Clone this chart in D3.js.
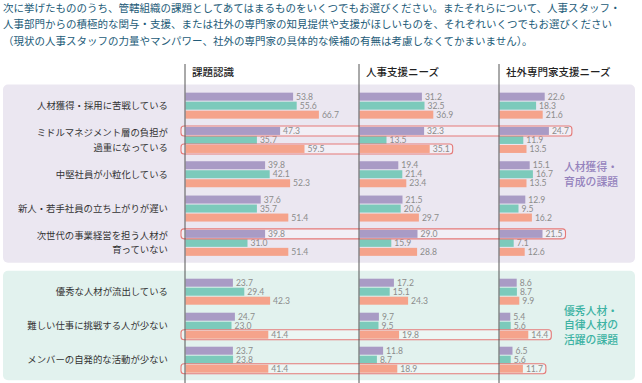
<!DOCTYPE html>
<html><head><meta charset="utf-8">
<script src="https://cdn.jsdelivr.net/npm/d3@7"></script>
<style>
html,body{margin:0;padding:0;background:#fff;}
svg{display:block;}
</style></head>
<body>
<svg id="chart" width="642" height="383"></svg>
<script>
// ---- data ----
const headerLines = [
  "次に挙げたもののうち、管轄組織の課題としてあてはまるものをいくつでもお選びください。またそれらについて、人事スタッフ・",
  "人事部門からの積極的な関与・支援、または社外の専門家の知見提供や支援がほしいものを、それぞれいくつでもお選びください",
  "（現状の人事スタッフの力量やマンパワー、社外の専門家の具体的な候補の有無は考慮しなくてかまいません）。"
];
const panels = ["課題認識", "人事支援ニーズ", "社外専門家支援ニーズ"];
const upperCats = ["人材獲得・採用に苦戦している", "ミドルマネジメント層の負担が\n過重になっている", "中堅社員が小粒化している", "新人・若手社員の立ち上がりが遅い", "次世代の事業経営を担う人材が\n育っていない"];
const lowerCats = ["優秀な人材が流出している", "難しい仕事に挑戦する人が少ない", "メンバーの自発的な活動が少ない"];
const series = ["s1", "s2", "s3"];
// values per panel: [series][category]
const kadaiS1 = [53.8, 47.3, 39.8, 37.6, 39.8, 23.7, 24.7, 23.7];
const kadaiS2 = [55.6, 35.7, 42.1, 35.7, 31.0, 29.4, 23.0, 23.8];
const kadaiS3 = [66.7, 59.5, 52.3, 51.4, 51.4, 42.3, 41.4, 41.4];
const jinjiS1 = [31.2, 32.3, 19.4, 21.5, 29.0, 17.2, 9.7, 11.8];
const jinjiS2 = [32.5, 13.5, 21.4, 20.6, 15.9, 15.1, 9.5, 8.7];
const jinjiS3 = [36.9, 35.1, 23.4, 29.7, 28.8, 24.3, 19.8, 18.9];
const shagaiS1 = [22.6, 24.7, 15.1, 12.9, 21.5, 8.6, 5.4, 6.5];
const shagaiS2 = [18.3, 11.9, 16.7, 9.5, 7.1, 8.7, 5.6, 5.6];
const shagaiS3 = [21.6, 13.5, 13.5, 16.2, 12.6, 9.9, 14.4, 11.7];
// highlighted rows: category index, series index, last panel covered
const highlights = [[1, 0, 2], [1, 2, 1], [4, 0, 2], [6, 2, 2], [7, 2, 2]];
const groupLabels = [["人材獲得・", "育成の課題"], ["優秀人材・", "自律人材の", "活躍の課題"]];

const panelData = [[kadaiS1, kadaiS2, kadaiS3], [jinjiS1, jinjiS2, jinjiS3], [shagaiS1, shagaiS2, shagaiS3]];
const allCats = upperCats.concat(lowerCats);

// ---- styles ----
const colors = ["#a99bc5", "#7ccabb", "#f5a38b"];
const jp = "'Noto Sans CJK JP', 'Noto Sans', sans-serif";
const numFont = "Lato, 'Noto Sans', sans-serif";

const svg = d3.select("#chart");

// header
svg.append("g").selectAll("text").data(headerLines).join("text")
  .attr("x", 3).attr("y", (d, i) => 12 + i * 16.3)
  .attr("font-family", jp).attr("font-size", 10.5).attr("fill", "#235b78")
  .text(d => d);

// backgrounds
svg.append("rect").attr("x", 3).attr("y", 84.5).attr("width", 632).attr("height", 178.2)
  .attr("rx", 5).attr("fill", "#ebe7f1");
svg.append("rect").attr("x", 3).attr("y", 270.7).attr("width", 632).attr("height", 109.5)
  .attr("rx", 5).attr("fill", "#e2f2ee");

// scales
const origins = [185, 359, 499];
const x = d3.scaleLinear().domain([0, 100]).range([0, 200]);
const yUpper = d3.scaleBand().domain(upperCats).range([88.5, 88.5 + 5 * 34.3]);
const yLower = d3.scaleBand().domain(lowerCats).range([274.7, 274.7 + 3 * 34]);
const yInner = d3.scaleBand().domain(series).range([0, 26]).paddingInner(1 / 9);
function groupTop(ci) {
  const c = allCats[ci];
  if (ci < upperCats.length) return yUpper(c) + (yUpper.step() - 26) / 2;
  return yLower(c) + (yLower.step() - 26) / 2;
}
function barTop(ci, si) { return groupTop(ci) + yInner(series[si]); }

// layers
const hlFill = svg.append("g");
const barsG = svg.append("g");
const labelsG = svg.append("g");
const hlStroke = svg.append("g");

// bars + labels
const labelEnds = {};
panels.forEach((p, pi) => {
  const ox = origins[pi] + 0.5;
  series.forEach((s, si) => {
    const vals = panelData[pi][si];
    barsG.append("g").selectAll("rect").data(vals).join("rect")
      .attr("x", ox)
      .attr("y", (d, ci) => barTop(ci, si))
      .attr("width", d => x(d))
      .attr("height", yInner.bandwidth())
      .attr("fill", colors[si]);
    labelsG.append("g").selectAll("text").data(vals).join("text")
      .attr("x", d => ox + x(d) + 3)
      .attr("y", (d, ci) => barTop(ci, si) + yInner.bandwidth() / 2)
      .attr("dy", "0.36em")
      .attr("font-family", numFont).attr("font-size", 8.6).attr("fill", "#8c8c8c")
      .text(d => d.toFixed(1))
      .each(function (d, ci) {
        labelEnds[pi + "_" + si + "_" + ci] = ox + x(d) + 3 + this.getComputedTextLength();
      });
  });
});

// highlight boxes
highlights.forEach(([ci, si, last]) => {
  const x0 = 181;
  const x1 = labelEnds[last + "_" + si + "_" + ci] + 3;
  const y0 = barTop(ci, si) - 1;
  hlFill.append("rect").attr("x", x0).attr("y", y0).attr("width", x1 - x0).attr("height", 10)
    .attr("rx", 3).attr("fill", "rgba(255,255,255,0.35)");
  hlStroke.append("rect").attr("x", x0).attr("y", y0).attr("width", x1 - x0).attr("height", 10)
    .attr("rx", 3).attr("fill", "none").attr("stroke", "#e57a78").attr("stroke-width", 1.1);
});

// vertical axis lines
svg.append("g").selectAll("line").data(origins).join("line")
  .attr("x1", d => d).attr("x2", d => d).attr("y1", 64).attr("y2", 383)
  .attr("stroke", "#555").attr("stroke-width", 1);

// panel titles
svg.append("g").selectAll("text").data(panels).join("text")
  .attr("x", (d, i) => origins[i] + 7).attr("y", 72).attr("dy", "0.36em")
  .attr("font-family", jp).attr("font-size", 10.5).attr("font-weight", 500).attr("fill", "#222")
  .text(d => d);

// category labels
allCats.forEach((c, ci) => {
  const lines = c.split("\n");
  const cy = groupTop(ci) + 13;
  const lh = 14.5;
  svg.append("g").selectAll("text").data(lines).join("text")
    .attr("x", 168).attr("text-anchor", "end")
    .attr("y", (d, i) => cy + (i - (lines.length - 1) / 2) * lh)
    .attr("dy", "0.36em")
    .attr("font-family", jp).attr("font-size", 9.4).attr("fill", "#333")
    .text(d => d);
});

// group labels
const glColors = ["#9583bd", "#3db2a3"];
const glCenters = [174.5, 325.5];
const glLH = [15, 14.6];
groupLabels.forEach((lines, gi) => {
  svg.append("g").selectAll("text").data(lines).join("text")
    .attr("x", 564)
    .attr("y", (d, i) => glCenters[gi] + (i - (lines.length - 1) / 2) * glLH[gi])
    .attr("dy", "0.36em")
    .attr("font-family", jp).attr("font-size", 10.8).attr("font-weight", 500).attr("fill", glColors[gi])
    .text(d => d);
});
</script>
</body></html>
